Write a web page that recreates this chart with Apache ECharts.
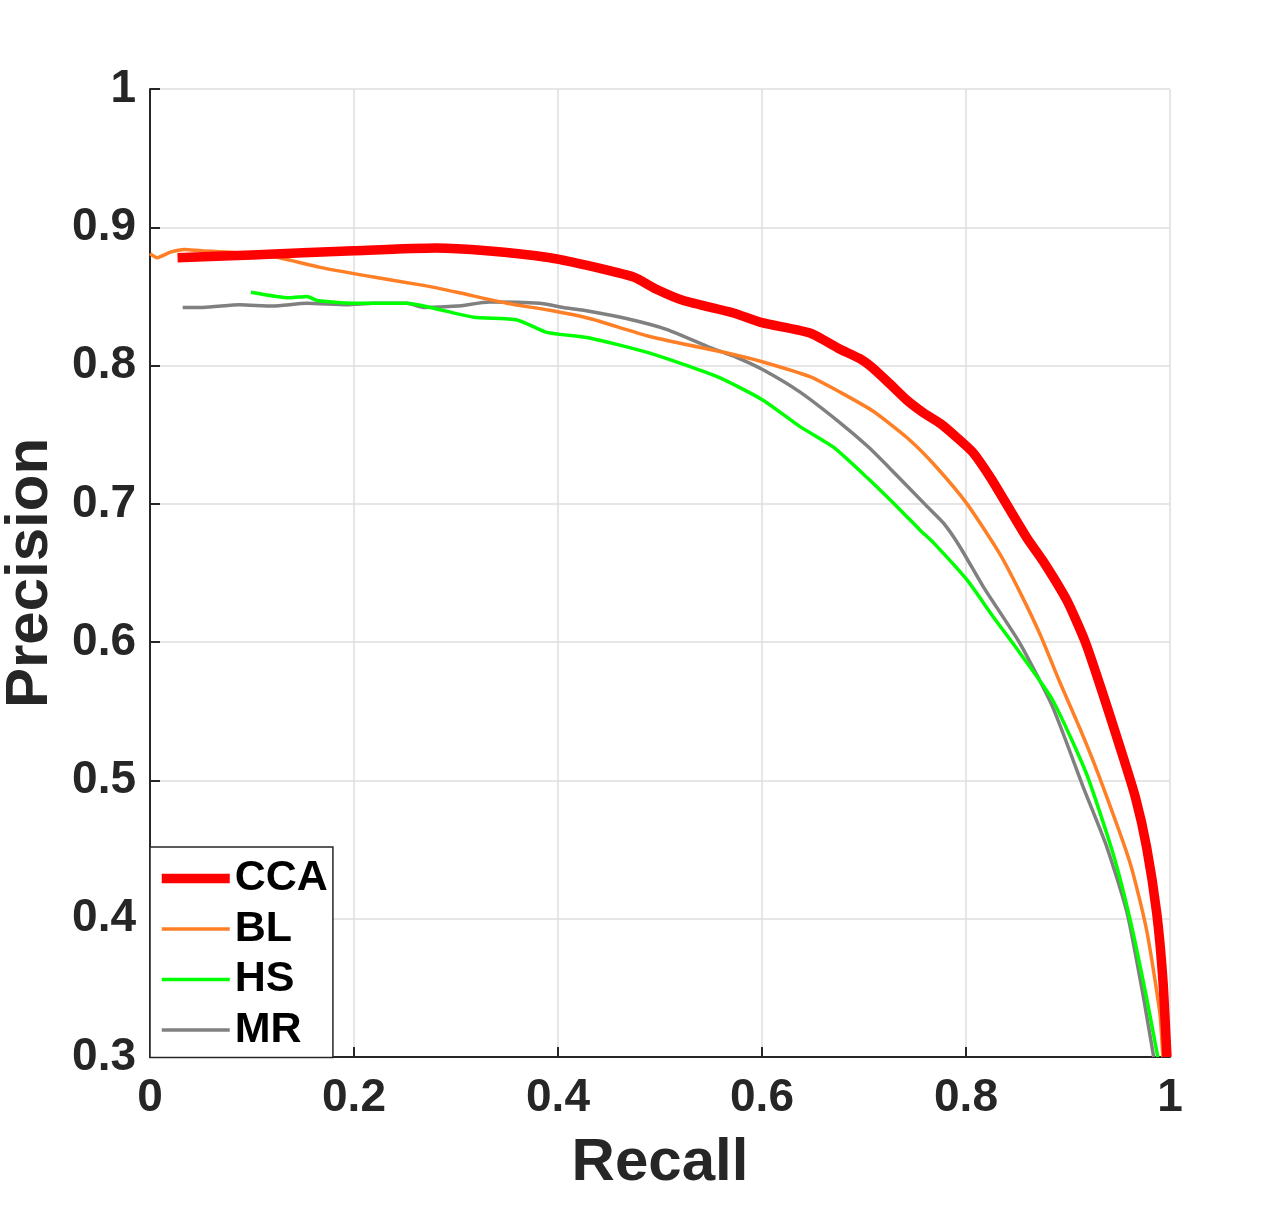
<!DOCTYPE html>
<html>
<head>
<meta charset="utf-8">
<script src="https://cdn.jsdelivr.net/npm/echarts@6/dist/echarts.min.js"></script>
<style>
  html, body { margin: 0; padding: 0; background: #fff; }
  #chart { width: 1275px; height: 1220px; }
</style>
</head>
<body>
<div id="chart"></div>
<script>
// precision-recall curves
const seriesNames = ['CCA', 'BL', 'HS', 'MR'];

const ccaRecall = [0.027, 0.1, 0.2, 0.28, 0.33, 0.392, 0.425, 0.474, 0.497, 0.523, 0.572, 0.6, 0.647, 0.676, 0.696, 0.709, 0.725, 0.742, 0.758, 0.775, 0.791, 0.807, 0.824, 0.842, 0.86, 0.877, 0.899, 0.917, 0.934, 0.951, 0.966, 0.977, 0.987, 0.993, 0.997];
const ccaPrecision = [0.878, 0.880, 0.883, 0.885, 0.883, 0.878, 0.873, 0.864, 0.855, 0.847, 0.838, 0.831, 0.8235, 0.812, 0.805, 0.798, 0.787, 0.775, 0.766, 0.758, 0.748, 0.737, 0.719, 0.697, 0.675, 0.657, 0.630, 0.6, 0.563, 0.524, 0.488, 0.452, 0.404, 0.356, 0.3];

const blRecall = [0, 0.007, 0.02, 0.034, 0.05, 0.1, 0.127, 0.167, 0.219, 0.268, 0.301, 0.35, 0.392, 0.431, 0.49, 0.572, 0.601, 0.647, 0.676, 0.709, 0.742, 0.768, 0.801, 0.833, 0.853, 0.873, 0.892, 0.912, 0.931, 0.961, 0.977, 0.99, 0.993];
const blPrecision = [0.881, 0.878, 0.882, 0.884, 0.883, 0.881, 0.878, 0.871, 0.864, 0.858, 0.853, 0.845, 0.840, 0.834, 0.821, 0.808, 0.8026, 0.792, 0.781, 0.767, 0.748, 0.729, 0.700, 0.664, 0.636, 0.605, 0.571, 0.537, 0.502, 0.44, 0.392, 0.332, 0.3];

const hsRecall = [0.099, 0.137, 0.154, 0.164, 0.199, 0.252, 0.275, 0.317, 0.36, 0.389, 0.431, 0.49, 0.556, 0.601, 0.637, 0.67, 0.703, 0.735, 0.755, 0.768, 0.801, 0.827, 0.853, 0.885, 0.918, 0.944, 0.961, 0.977, 0.988];
const hsPrecision = [0.853, 0.849, 0.850, 0.847, 0.845, 0.845, 0.842, 0.835, 0.833, 0.824, 0.82, 0.809, 0.792, 0.775, 0.756, 0.741, 0.719, 0.696, 0.681, 0.672, 0.645, 0.618, 0.592, 0.558, 0.505, 0.4475, 0.399, 0.343, 0.3];

const mrRecall = [0.032, 0.052, 0.088, 0.12, 0.154, 0.193, 0.219, 0.252, 0.268, 0.301, 0.333, 0.382, 0.405, 0.425, 0.467, 0.507, 0.549, 0.575, 0.601, 0.637, 0.676, 0.703, 0.725, 0.762, 0.778, 0.794, 0.817, 0.853, 0.885, 0.915, 0.938, 0.958, 0.974, 0.984];
const mrPrecision = [0.842, 0.842, 0.844, 0.843, 0.845, 0.844, 0.845, 0.845, 0.842, 0.843, 0.846, 0.845, 0.842, 0.840, 0.834, 0.826, 0.813, 0.806, 0.797, 0.781, 0.759, 0.742, 0.726, 0.698, 0.686, 0.669, 0.640, 0.599, 0.553, 0.495, 0.452, 0.404, 0.343, 0.3];

const xTicks = [0, 0.2, 0.4, 0.6, 0.8, 1];
const yTicks = [0.3, 0.4, 0.5, 0.6, 0.7, 0.8, 0.9, 1];

const colors = ['#ff0000', '#ff7f27', '#00ff00', '#808080'];
const widths = [9.5, 3.5, 3.5, 3.5];

function pairs(xs, ys) {
  return xs.map((x, i) => [x, ys[i]]);
}

const curves = [
  pairs(ccaRecall, ccaPrecision),
  pairs(blRecall, blPrecision),
  pairs(hsRecall, hsPrecision),
  pairs(mrRecall, mrPrecision)
];

const font = '"Liberation Sans", Arial, Helvetica, sans-serif';
const dark = '#262626';

const chart = echarts.init(document.getElementById('chart'), null, { renderer: 'canvas' });

const option = {
  backgroundColor: '#ffffff',
  animation: false,
  grid: {
    left: 150,
    top: 89,
    right: 105,
    bottom: 163,
    containLabel: false,
    outerBoundsMode: 'none'
  },
  xAxis: {
    type: 'value',
    min: 0,
    max: 1,
    interval: 0.2,
    name: 'Recall',
    nameLocation: 'middle',
    nameGap: 76,
    nameTextStyle: { fontFamily: font, fontWeight: 'bold', fontSize: 60, color: dark },
    axisLine: { show: true, lineStyle: { color: dark, width: 2 } },
    axisTick: { show: true, inside: true, length: 10, lineStyle: { color: dark, width: 2 } },
    axisLabel: {
      margin: 18,
      fontFamily: font,
      fontWeight: 'bold',
      fontSize: 46,
      color: dark,
      formatter: v => xTicks.includes(+v.toFixed(1)) ? String(+v.toFixed(1)) : ''
    },
    splitLine: { show: true, lineStyle: { color: '#dedede', width: 1.5 } }
  },
  yAxis: {
    type: 'value',
    min: 0.3,
    max: 1,
    interval: 0.1,
    name: 'Precision',
    nameLocation: 'middle',
    nameGap: 90,
    nameTextStyle: { fontFamily: font, fontWeight: 'bold', fontSize: 60, color: dark },
    axisLine: { show: true, lineStyle: { color: dark, width: 2 } },
    axisTick: { show: true, inside: true, length: 10, lineStyle: { color: dark, width: 2 } },
    axisLabel: {
      margin: 14,
      fontFamily: font,
      fontWeight: 'bold',
      fontSize: 46,
      color: dark,
      formatter: v => String(+v.toFixed(1))
    },
    splitLine: { show: true, lineStyle: { color: '#dedede', width: 1.5 } }
  },
  legend: {
    orient: 'vertical',
    left: 150,
    top: 847,
    data: seriesNames,
    backgroundColor: '#ffffff',
    borderColor: dark,
    borderWidth: 1.5,
    padding: [10, 5, 6, 7],
    itemWidth: 68,
    itemHeight: 43,
    itemGap: 7.5,
    lineStyle: { width: 'inherit' },
    itemStyle: { color: 'rgba(0,0,0,0)', borderWidth: 0, opacity: 0 },
    textStyle: { fontFamily: font, fontWeight: 'bold', fontSize: 43, color: '#000' }
  },
  series: seriesNames.map((name, i) => ({
    name: name,
    type: 'line',
    data: curves[i],
    symbol: 'none',
    smooth: 0.2,
    clip: true,
    z: 10 - i,
    lineStyle: { color: colors[i], width: widths[i], join: 'round' },
    itemStyle: { color: colors[i] }
  }))
};

chart.setOption(option);
</script>
</body>
</html>
